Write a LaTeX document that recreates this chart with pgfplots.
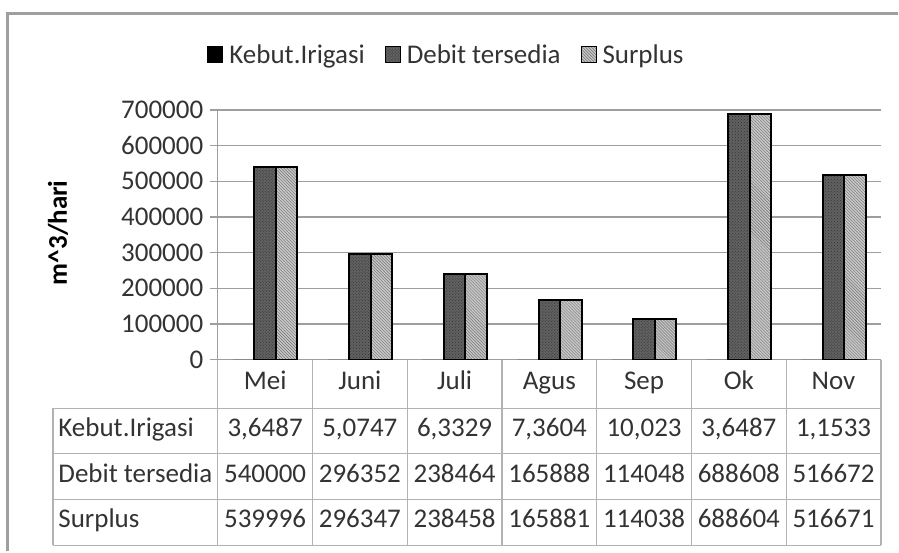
\documentclass[border=0pt]{standalone}
\usepackage{pgfplots}
\pgfplotsset{compat=1.18}
\usepackage{fontspec}
\setmainfont{Carlito}
\usetikzlibrary{patterns}
\definecolor{txt}{gray}{0.2}
\definecolor{gridc}{gray}{0.62}
\definecolor{tabc}{gray}{0.7}
\definecolor{dbar}{gray}{0.38}
\definecolor{sbar}{gray}{0.78}
\newcommand{\fs}{\fontsize{27}{32}\selectfont}
\begin{document}
\begin{tikzpicture}
\begin{axis}[
  at={(218pt,192pt)}, anchor=south west,
  scale only axis, width=664pt, height=250pt,
  xmin=-0.5, xmax=6.5, ymin=0, ymax=700000,
  xtick=\empty,
  ytick={0,100000,200000,300000,400000,500000,600000,700000},
  scaled y ticks=false,
  yticklabel style={/pgf/number format/fixed,/pgf/number format/1000 sep={},/pgf/number format/assume math mode=true,font=\fs,text=txt},
  axis x line*=bottom, axis y line*=left,
  axis line style={gridc, line width=1.3pt, -},
  ymajorgrids, grid style={gridc, line width=1.3pt},
  major tick length=8pt, tick align=outside, tick style={gridc, line width=1.3pt},
  yticklabel shift=3pt,
  ybar=0pt, bar width=0.227,
  legend style={at={(0.345,1.22)}, anchor=center, draw=none, fill=none, legend columns=3, font=\fs, text=txt,
    /tikz/every odd column/.append style={column sep=4pt},
    /tikz/every even column/.append style={column sep=18pt}, inner sep=0pt},
  legend image code/.code={\draw[#1, draw=black, line width=1pt] (0pt,-8pt) rectangle (15pt,8pt);},
]
\addplot[fill=black, draw=none] coordinates {(0,3.6487) (1,5.0747) (2,6.3329) (3,7.3604) (4,10.023) (5,3.6487) (6,1.1533)};
\addlegendentry{Kebut.Irigasi}
\addplot[fill=dbar, draw=black, line width=2pt, postaction={pattern=crosshatch dots, pattern color=black!80}] coordinates {(0,540000) (1,296352) (2,238464) (3,165888) (4,114048) (5,688608) (6,516672)};
\addlegendentry{Debit tersedia}
\addplot[fill=sbar, draw=black, line width=2pt, postaction={pattern=north west lines, pattern color=black!55}] coordinates {(0,539996) (1,296347) (2,238458) (3,165881) (4,114038) (5,688604) (6,516671)};
\addlegendentry{Surplus}
\end{axis}
\begin{scope}[x=1pt, y=-1pt, shift={(0pt,552pt)}, cell/.style={font=\fs, text=txt, text height=17pt, text depth=5pt, inner ysep=0pt}]
\path (0,0) rectangle (899,552);
% outer frame
\draw[gray!75, line width=2.2pt] (7.5,552) -- (7.5,13.5) -- (899,13.5);
% y label
\node[rotate=90, font=\fs\bfseries, text=black] at (58,233) {m\textasciicircum 3/hari};
% table grid
\foreach \k in {0,...,7} {\draw[tabc, line width=1.2pt] ({218+\k*94.857},360) -- ({218+\k*94.857},546);}
\foreach \yy in {409,454,500,546} {\draw[tabc, line width=1.2pt] (53,\yy) -- (882,\yy);}
\draw[tabc, line width=1.2pt] (53,409) -- (53,546);
% categories
\foreach \c [count=\i from 0] in {Mei,Juni,Juli,Agus,Sep,Ok,Nov} {
  \node[cell] at ({218+(\i+0.5)*94.857},384) {\c};
}
% row headers
\node[cell, anchor=west] at (55,431) {Kebut.Irigasi};
\node[cell, anchor=west] at (55,477) {Debit tersedia};
\node[cell, anchor=west] at (55,522) {Surplus};
\foreach \v [count=\i from 0] in {{3,6487},{5,0747},{6,3329},{7,3604},{10,023},{3,6487},{1,1533}} {
  \node[cell] at ({218+(\i+0.5)*94.857},431) {\v};
}
\foreach \v [count=\i from 0] in {540000,296352,238464,165888,114048,688608,516672} {
  \node[cell] at ({218+(\i+0.5)*94.857},477) {\v};
}
\foreach \v [count=\i from 0] in {539996,296347,238458,165881,114038,688604,516671} {
  \node[cell] at ({218+(\i+0.5)*94.857},522) {\v};
}
\end{scope}
\end{tikzpicture}
\end{document}
